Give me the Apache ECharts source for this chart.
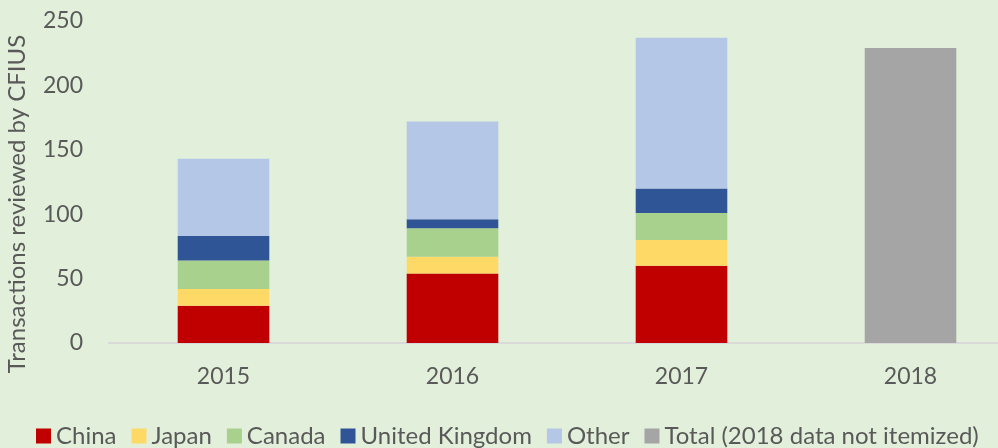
<!DOCTYPE html>
<html lang="en">
<head>
    <meta charset="UTF-8">
    <title>CFIUS transactions</title>
    <script src="https://cdn.jsdelivr.net/npm/echarts@6/dist/echarts.min.js"></script>
    <style>
        html, body { margin: 0; padding: 0; background: #e2efda; }
        #main { width: 998px; height: 448px; }
    </style>
</head>
<body>
<div id="main"></div>
<script type="text/javascript">
    // data
    var years = ['2015', '2016', '2017', '2018'];
    var china = [29, 54, 60, null];
    var japan = [13, 13, 20, null];
    var canada = [22, 22, 21, null];
    var uk = [19, 7, 19, null];
    var other = [60, 76, 117, null];
    var total = [null, null, null, 229];

    var names = ['China', 'Japan', 'Canada', 'United Kingdom', 'Other', 'Total (2018 data not itemized)'];
    var colors = ['#c00000', '#ffd966', '#a9d18e', '#2f5597', '#b4c7e7', '#a5a5a5'];
    var values = [china, japan, canada, uk, other, total];

    var font = 'Lato, "Open Sans", sans-serif';
    var chart = echarts.init(document.getElementById('main'));

    var series = [];
    for (var i = 0; i < names.length; i++) {
        series.push({
            name: names[i],
            type: 'bar',
            stack: 'all',
            barWidth: '40%',
            itemStyle: { color: colors[i] },
            data: values[i]
        });
    }

    chart.setOption({
        backgroundColor: '#e2efda',
        textStyle: { fontFamily: font },
        grid: { left: 109, right: -27, top: 21, bottom: 105, outerBoundsMode: 'none', containLabel: false },
        legend: {
            bottom: 0,
            left: 36,
            width: 962,
            padding: 0,
            itemWidth: 15,
            itemHeight: 15,
            itemGap: 15,
            icon: 'rect',
            textStyle: { color: '#595959', fontSize: 24, fontFamily: font },
            data: names
        },
        xAxis: {
            type: 'category',
            data: years,
            axisLine: { lineStyle: { color: '#d9d9d9', width: 2 } },
            axisTick: { show: false },
            axisLabel: { color: '#595959', fontSize: 23, margin: 22 }
        },
        yAxis: {
            type: 'value',
            min: 0,
            max: 250,
            interval: 50,
            name: 'Transactions reviewed by CFIUS',
            nameLocation: 'middle',
            nameGap: 80,
            nameTextStyle: { color: '#595959', fontSize: 24, padding: [0, 44, 0, 0] },
            splitLine: { show: false },
            axisLine: { show: false },
            axisLabel: { color: '#595959', fontSize: 23, margin: 26 }
        },
        series: series
    });
</script>
</body>
</html>
